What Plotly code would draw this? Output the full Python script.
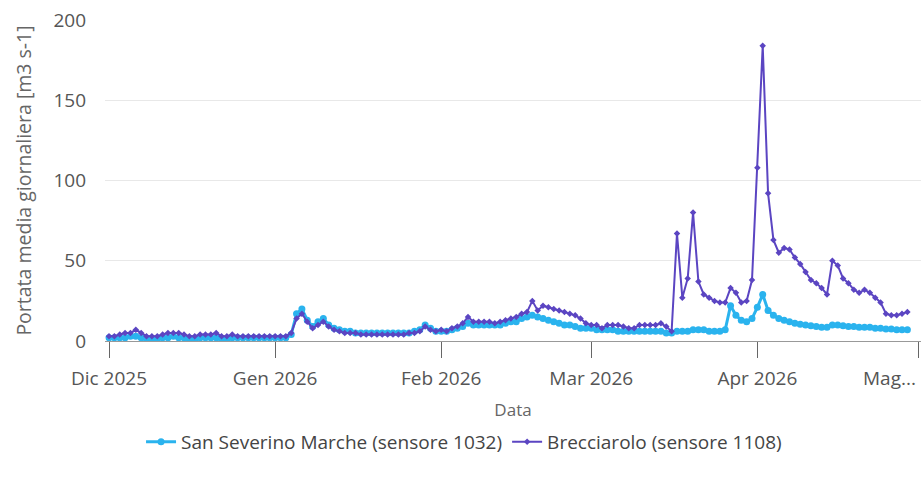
import pandas as pd
import plotly.graph_objects as go

# Portata media giornaliera, dal 1 dicembre 2025 (un valore al giorno)
san_severino_dic = [2, 2, 2, 2, 3, 3, 2, 1, 1, 1, 2, 2, 3, 2, 2, 1, 1, 2, 2, 2, 2, 1, 1, 2, 2, 2, 2, 2, 2, 2, 2]
san_severino_gen = [2, 2, 2, 4, 17, 20, 13, 9, 12, 14, 10, 8, 7, 6, 6, 5, 5, 5, 5, 5, 5, 5, 5, 5, 5, 5, 6, 7, 10, 8, 6]
san_severino_feb = [6, 6, 7, 8, 9, 11, 10, 10, 10, 10, 10, 10, 11, 12, 12, 14, 15, 16, 15, 14, 13, 12, 11, 10, 10, 9, 8, 8]
san_severino_mar = [8, 7, 7, 7, 7, 6, 6, 6, 6, 6, 6, 6, 6, 6, 5, 5, 6, 6, 6, 7, 7, 7, 6, 6, 6, 7, 22, 16, 13, 12, 14]
san_severino_apr = [21, 29, 19, 16, 14, 13, 12, 11, 10.5, 10, 9.5, 9, 8.5, 8.5, 10, 10, 9.5, 9, 9, 8.5, 8.5, 8.5, 8, 8, 7.5, 7.5, 7, 7, 7]

brecciarolo_dic = [3, 3, 4, 5, 5, 7, 5, 3, 3, 3, 4, 5, 5, 5, 4, 3, 3, 4, 4, 4, 5, 3, 3, 4, 3, 3, 3, 3, 3, 3, 3]
brecciarolo_gen = [3, 3, 3, 5, 14, 17, 12, 8, 10, 12, 9, 7, 6, 5, 5, 5, 4, 4, 4, 4, 4, 4, 4, 4, 4, 5, 5, 6, 9, 7, 6]
brecciarolo_feb = [7, 6, 8, 9, 11, 15, 12, 12, 12, 12, 11, 12, 13, 14, 15, 17, 18, 25, 19, 22, 21, 20, 19, 18, 17, 16, 14, 11]
brecciarolo_mar = [10, 10, 8, 10, 10, 10, 9, 8, 8, 10, 10, 10, 10, 11, 9, 6, 67, 27, 39, 80, 37, 29, 27, 25, 24, 24, 33, 30, 24, 25, 38]
brecciarolo_apr = [108, 184, 92, 63, 55, 58, 57, 52, 48, 43, 38, 36, 33, 29, 50, 47, 39, 36, 32, 30, 32, 30, 27, 24, 17, 16, 16, 17, 18]

tick_dates = ["2025-12-01", "2026-01-01", "2026-02-01", "2026-03-01", "2026-04-01", "2026-05-01"]
tick_labels = ["Dic 2025", "Gen 2026", "Feb 2026", "Mar 2026", "Apr 2026", "Mag..."]

san_severino = san_severino_dic + san_severino_gen + san_severino_feb + san_severino_mar + san_severino_apr
brecciarolo = brecciarolo_dic + brecciarolo_gen + brecciarolo_feb + brecciarolo_mar + brecciarolo_apr
dates = pd.date_range("2025-12-01", periods=len(brecciarolo), freq="D")

LIGHT_BLUE = "#2ab3ee"
PURPLE = "#5b45c2"
TEXT = "#666666"
TICK = "#555555"
FONT = "Open Sans, sans-serif"

fig = go.Figure()
fig.add_trace(go.Scatter(
    x=dates, y=san_severino, mode="lines+markers",
    name="San Severino Marche (sensore 1032)",
    line=dict(color=LIGHT_BLUE, width=3),
    marker=dict(symbol="circle", size=7, color=LIGHT_BLUE),
))
fig.add_trace(go.Scatter(
    x=dates, y=brecciarolo, mode="lines+markers",
    name="Brecciarolo (sensore 1108)",
    line=dict(color=PURPLE, width=2),
    marker=dict(symbol="diamond", size=5, color=PURPLE),
))

# the last month label sits right-aligned on its tick, at the edge of the page
fig.add_annotation(
    x=tick_dates[-1], xref="x", y=0, yref="paper",
    text=tick_labels[-1], showarrow=False,
    xanchor="right", yanchor="middle", yshift=-37,
    font=dict(family=FONT, size=19, color=TICK),
)

fig.update_layout(
    width=923, height=484,
    margin=dict(l=105, r=2, t=20, b=143),
    paper_bgcolor="white", plot_bgcolor="white",
    font=dict(family=FONT, size=18, color=TEXT),
    showlegend=True,
    legend=dict(orientation="h", x=0.44, xanchor="center", y=-0.255, yanchor="top",
                font=dict(size=19, color="#444444"), itemwidth=30),
    xaxis=dict(
        range=["2025-11-30 06:00", "2026-05-01 13:00"],
        tickvals=tick_dates, ticktext=tick_labels[:-1] + [""],
        showgrid=False, showline=True, linecolor="#999999", linewidth=1,
        ticks="outside", ticklen=16, tickcolor="#666666",
        tickfont=dict(size=19, color=TICK), ticklabelstandoff=4,
        title=dict(text="Data", font=dict(size=17, color=TEXT), standoff=14),
        zeroline=False,
    ),
    yaxis=dict(
        range=[0, 200], tickvals=[0, 50, 100, 150, 200],
        showgrid=True, gridcolor="#e8e8e8", gridwidth=1,
        showline=False, zeroline=False,
        ticks="", tickfont=dict(size=19, color=TICK), ticklabelstandoff=18,
        title=dict(text="Portata media giornaliera [m3 s-1]", font=dict(size=19.5, color=TEXT), standoff=16),
    ),
)

fig.write_html("out.html")
